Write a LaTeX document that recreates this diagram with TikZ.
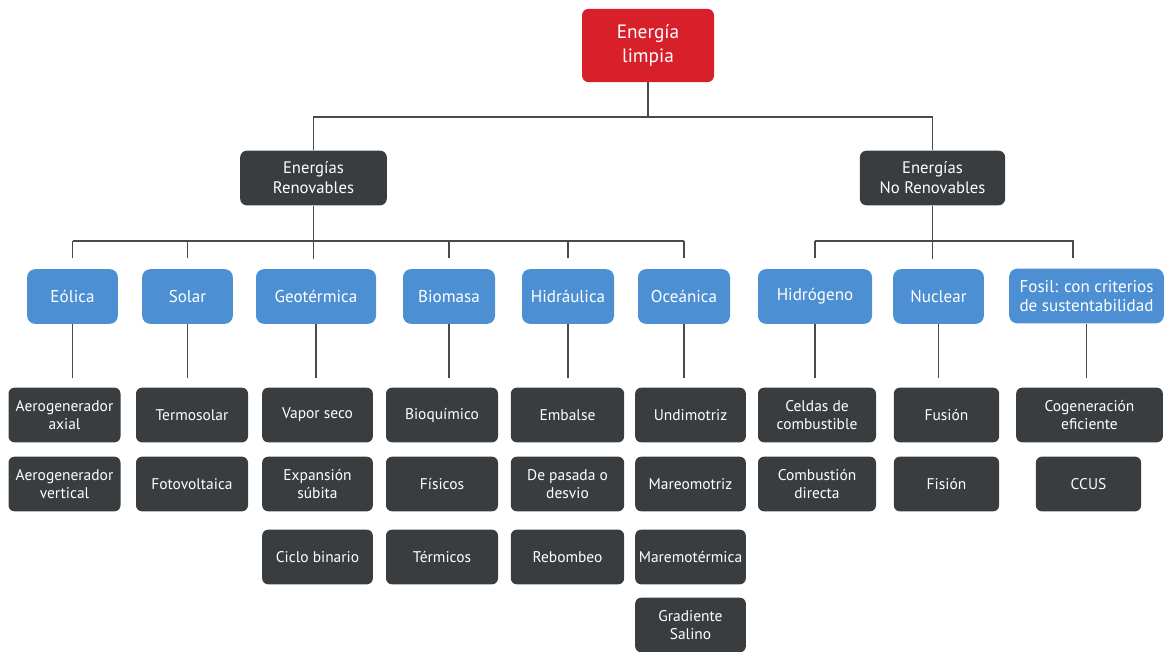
\documentclass[tikz,border=0pt]{standalone}
\usepackage{fontspec}
\setmainfont{PT Sans}
\definecolor{rojo}{HTML}{D7202A}
\definecolor{azul}{HTML}{4C8FD2}
\definecolor{oscuro}{HTML}{3A3D40}
\definecolor{linea}{HTML}{4A4A4A}

\begin{document}
\begin{tikzpicture}[x=0.75pt,y=-0.75pt,
    caja/.style={text=white,align=center,inner sep=1pt,minimum height=41pt},
    raiz/.style={caja,fill=rojo,rounded corners=5pt,minimum width=99pt,minimum height=55pt,font=\fontsize{14.5}{18}\selectfont},
    tipo/.style={caja,fill=oscuro,rounded corners=5pt,minimum width=#1,font=\fontsize{12.5}{15}\selectfont},
    fuente/.style={caja,fill=azul,rounded corners=6pt,minimum width=#1,font=\fontsize{12.8}{14.5}\selectfont},
    item/.style={caja,fill=oscuro,rounded corners=4.5pt,minimum width=#1,font=\fontsize{11.6}{14}\selectfont},
    link/.style={draw=linea,line width=1.4pt}]
    \useasboundingbox (0,0) rectangle (1164,652);

    \node[raiz] (limpia) at (648,45.5) {Energía\\limpia};
    \node[tipo=110pt] (renov) at (313.5,178) {Energías\\Renovables};
    \node[tipo=109pt] (norenov) at (932.5,178) {Energías\\No Renovables};

    \node[fuente=68pt] (eolica) at (72.5,296.5) {Eólica};
    \node[fuente=68pt] (solar) at (187.5,296.5) {Solar};
    \node[fuente=90pt] (geotermica) at (316,296.5) {Geotérmica};
    \node[fuente=69pt] (biomasa) at (449,296.5) {Biomasa};
    \node[fuente=69pt] (hidraulica) at (568,296.5) {Hidráulica};
    \node[fuente=69pt] (oceanica) at (684,296.5) {Oceánica};
    \node[fuente=85.5pt] (hidrogeno) at (815,296.5) {Hidrógeno};
    \node[fuente=68pt] (nuclear) at (938.5,296.5) {Nuclear};
    \node[fuente=116pt] (fosil) at (1086.5,296) {Fosil: con criterios\\de sustentabilidad};

    \node[item=84pt] (axial) at (64.5,415) {Aerogenerador\\axial};
    \node[item=84pt] (vertical) at (64.5,484) {Aerogenerador\\vertical};
    \node[item=84pt] (termosolar) at (192,415) {Termosolar};
    \node[item=84pt] (fotovoltaica) at (192,484) {Fotovoltaica};
    \node[item=83pt] (vapor) at (317.5,415) {Vapor seco};
    \node[item=83pt] (expansion) at (317.5,484) {Expansión\\súbita};
    \node[item=83pt] (binario) at (317.5,557) {Ciclo binario};
    \node[item=84pt] (bioquimico) at (442,415) {Bioquímico};
    \node[item=84pt] (fisicos) at (442,484) {Físicos};
    \node[item=84pt] (termicos) at (442,557) {Térmicos};
    \node[item=85pt] (embalse) at (567.5,415) {Embalse};
    \node[item=85pt] (pasada) at (567.5,484) {De pasada o\\desvio};
    \node[item=85pt] (rebombeo) at (567.5,557) {Rebombeo};
    \node[item=83pt] (undimotriz) at (690.5,415) {Undimotriz};
    \node[item=83pt] (mareomotriz) at (690.5,484) {Mareomotriz};
    \node[item=83pt] (maremotermica) at (690.5,557) {Maremotérmica};
    \node[item=83pt] (salino) at (690.5,625) {Gradiente\\Salino};
    \node[item=88.5pt] (celdas) at (817,415) {Celdas de\\combustible};
    \node[item=88.5pt] (combustion) at (817,484) {Combustión\\directa};
    \node[item=79pt] (fusion) at (946.5,415) {Fusión};
    \node[item=79pt] (fision) at (946.5,484) {Fisión};
    \node[item=110pt] (cogeneracion) at (1089.5,415) {Cogeneración\\eficiente};
    \node[item=79pt] (ccus) at (1088.5,484) {CCUS};

    \draw[link] (limpia.south) -- ++(0,35) coordinate (rama);
    \draw[link] (renov.north) |- (rama) -| (norenov.north);

    \coordinate (bus) at (0,241);
    \coordinate (ftick) at (1073,241);
    \draw[link] (renov.south) -- ++(0,53);
    \draw[link] (eolica.north |- bus) -- (oceanica.north |- bus);
    \foreach \n in {eolica,solar,biomasa,hidraulica,oceanica}
        \draw[link] (\n.north |- bus) -- ++(0,17);
    \draw[link] (norenov.south) -- ++(0,53);
    \draw[link] (hidrogeno.north |- bus) -- (ftick) -- ++(0,17);
    \draw[link] (hidrogeno.north |- bus) -- ++(0,17);

    \foreach \n in {eolica,solar,geotermica,biomasa,hidraulica,oceanica,hidrogeno,nuclear,fosil}
        \draw[link] (\n.south) -- ++(0,54);
\end{tikzpicture}
\end{document}
